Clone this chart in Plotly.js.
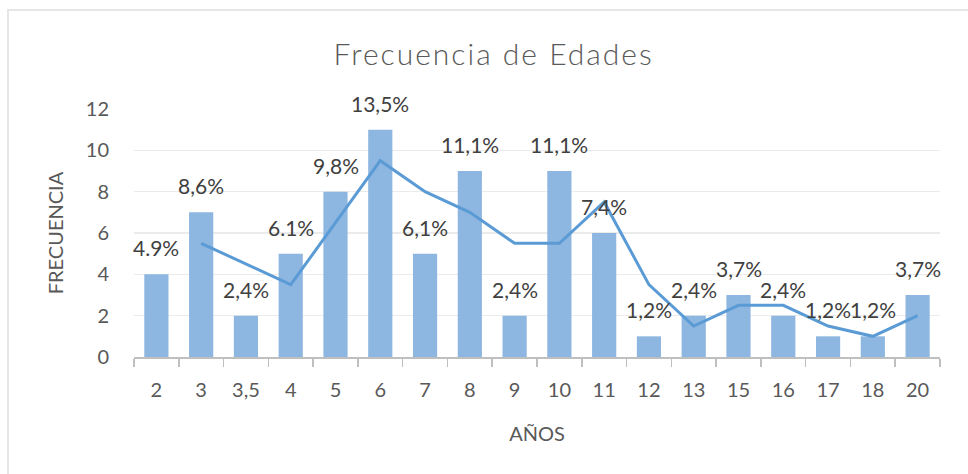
<!DOCTYPE html>
<html>
<head>
<meta charset="utf-8">
<script src="https://cdn.plot.ly/plotly-3.0.1.min.js"></script>
<style>
  html, body { margin: 0; padding: 0; background: #ffffff; }
  #frame { position: absolute; left: 7px; top: 9px; width: 1100px; height: 600px;
           border-left: 2px solid #e6e6e6; border-top: 2px solid #e6e6e6; }
  #chart { position: absolute; left: 0; top: 0; width: 968px; height: 474px; }
  .gtitle { letter-spacing: 2px; }
</style>
</head>
<body>
<div id="frame"></div>
<div id="chart"></div>
<script>
const categories = ["2","3","3,5","4","5","6","7","8","9","10","11","12","13","15","16","17","18","20"];
const frecuencia = [4,7,2,5,8,11,5,9,2,9,6,1,2,3,2,1,1,3];
const porcentajes = ["4.9%","8,6%","2,4%","6.1%","9,8%","13,5%","6,1%","11,1%","2,4%","11,1%","7,4%","1,2%","2,4%","3,7%","2,4%","1,2%","1,2%","3,7%"];
const lineCategories = ["3","3,5","4","5","6","7","8","9","10","11","12","13","15","16","17","18","20"];
const lineValues = [5.5,4.5,3.5,6.5,9.5,8,7,5.5,5.5,7.5,3.5,1.5,2.5,2.5,1.5,1,2];

const fontFam = "Lato, 'Open Sans', sans-serif";
const textColor = "#595959";

const bars = {
  type: "bar",
  x: categories,
  y: frecuencia,
  marker: { color: "#8DB6E0" },
  showlegend: false
};
const line = {
  type: "scatter",
  mode: "lines",
  x: lineCategories,
  y: lineValues,
  line: { color: "#5B9BD5", width: 3 },
  showlegend: false
};

// category axes position annotations by index
const annotations = categories.map((c, i) => ({
  x: categories.indexOf(c), y: frecuencia[i], xref: "x", yref: "y",
  text: porcentajes[i], showarrow: false,
  yanchor: "bottom", yshift: 12,
  font: { family: fontFam, size: 21, color: "#404040" }
}));

const layout = {
  width: 968, height: 474,
  paper_bgcolor: "rgba(0,0,0,0)",
  plot_bgcolor: "rgba(0,0,0,0)",
  margin: { l: 134, r: 28, t: 109, b: 117 },
  bargap: 0.46,
  title: {
    text: "Frecuencia de Edades",
    x: 0.51, xref: "container", xanchor: "center",
    y: 0.885, yref: "container", yanchor: "middle",
    font: { family: fontFam, size: 30, weight: 300, color: textColor }
  },
  xaxis: {
    type: "category",
    categoryorder: "array",
    categoryarray: categories,
    range: [-0.5, categories.length - 0.5],
    tickson: "boundaries",
    ticks: "outside", ticklen: 8, tickcolor: "#BFBFBF", tickwidth: 1.5,
    showline: true, linecolor: "#BFBFBF", linewidth: 1.5,
    showgrid: false,
    ticklabelstandoff: 14,
    tickfont: { family: fontFam, size: 20, color: textColor },
    title: { text: "AÑOS", standoff: 27, font: { family: fontFam, size: 20, color: textColor } }
  },
  yaxis: {
    range: [0, 12],
    dtick: 2,
    showgrid: true, gridcolor: "#EBEBEB", gridwidth: 1.2,
    zeroline: false,
    showline: false,
    ticks: "",
    ticklabelstandoff: 24,
    tickfont: { family: fontFam, size: 20, color: textColor },
    title: { text: "FRECUENCIA", standoff: 16, font: { family: fontFam, size: 20, color: textColor } }
  },
  annotations: annotations
};

Plotly.newPlot("chart", [bars, line], layout, { displayModeBar: false, staticPlot: true });
</script>
</body>
</html>
